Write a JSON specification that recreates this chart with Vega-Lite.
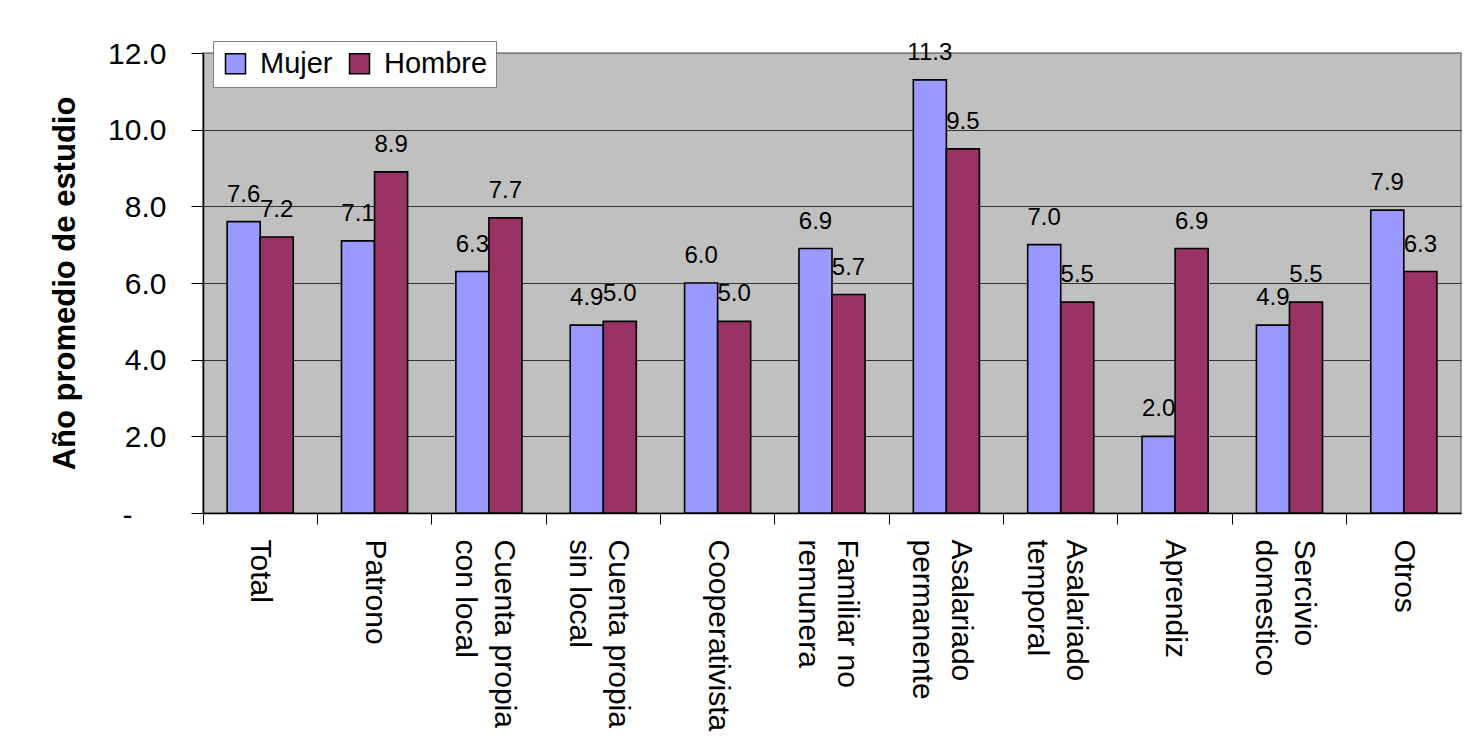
{
  "$schema": "https://vega.github.io/schema/vega-lite/v6.json",
  "width": 1258,
  "height": 460,
  "autosize": {"type": "none"},
  "padding": {"left": 203, "top": 53, "right": 3, "bottom": 223},
  "background": "white",
  "data": {
    "values": [
      {"categoria": "Total", "sexo": "Mujer", "anios": 7.6},
      {"categoria": "Total", "sexo": "Hombre", "anios": 7.2},
      {"categoria": "Patrono", "sexo": "Mujer", "anios": 7.1},
      {"categoria": "Patrono", "sexo": "Hombre", "anios": 8.9},
      {"categoria": "Cuenta propia\ncon local", "sexo": "Mujer", "anios": 6.3},
      {"categoria": "Cuenta propia\ncon local", "sexo": "Hombre", "anios": 7.7},
      {"categoria": "Cuenta propia\nsin local", "sexo": "Mujer", "anios": 4.9},
      {"categoria": "Cuenta propia\nsin local", "sexo": "Hombre", "anios": 5.0},
      {"categoria": "Cooperativista", "sexo": "Mujer", "anios": 6.0},
      {"categoria": "Cooperativista", "sexo": "Hombre", "anios": 5.0},
      {"categoria": "Familiar no\nremunera", "sexo": "Mujer", "anios": 6.9},
      {"categoria": "Familiar no\nremunera", "sexo": "Hombre", "anios": 5.7},
      {"categoria": "Asalariado\npermanente", "sexo": "Mujer", "anios": 11.3},
      {"categoria": "Asalariado\npermanente", "sexo": "Hombre", "anios": 9.5},
      {"categoria": "Asalariado\ntemporal", "sexo": "Mujer", "anios": 7.0},
      {"categoria": "Asalariado\ntemporal", "sexo": "Hombre", "anios": 5.5},
      {"categoria": "Aprendiz", "sexo": "Mujer", "anios": 2.0},
      {"categoria": "Aprendiz", "sexo": "Hombre", "anios": 6.9},
      {"categoria": "Sercivio\ndomestico", "sexo": "Mujer", "anios": 4.9},
      {"categoria": "Sercivio\ndomestico", "sexo": "Hombre", "anios": 5.5},
      {"categoria": "Otros", "sexo": "Mujer", "anios": 7.9},
      {"categoria": "Otros", "sexo": "Hombre", "anios": 6.3}
    ]
  },
  "encoding": {
    "x": {
      "field": "categoria",
      "type": "nominal",
      "sort": null,
      "scale": {"paddingInner": 0, "paddingOuter": 0},
      "axis": {
        "title": null,
        "labelExpr": "split(datum.label, '\\n')",
        "labelAngle": 90,
        "labelAlign": "left",
        "labelBaseline": "middle",
        "labelFont": "Liberation Sans",
        "labelFontSize": 30,
        "labelLineHeight": 39,
        "labelColor": "black",
        "labelPadding": 15,
        "labelLimit": 400,
        "labelOffset": {"condition": {"test": "indexof(datum.value, '\\n') >= 0", "value": 15}, "value": 0},
        "bandPosition": 0,
        "tickColor": "black",
        "tickSize": 11,
        "tickWidth": 1,
        "domainColor": "black",
        "domainWidth": 1.5,
        "grid": false
      }
    },
    "xOffset": {
      "field": "sexo",
      "type": "nominal",
      "sort": ["Mujer", "Hombre"],
      "scale": {"paddingInner": 0, "paddingOuter": 0.73}
    },
    "y": {
      "field": "anios",
      "type": "quantitative",
      "scale": {"domain": [0, 12], "nice": false},
      "axis": {
        "title": "Año promedio de estudio",
        "titleFont": "Liberation Sans",
        "titleFontSize": 31,
        "titleFontWeight": "bold",
        "titleColor": "black",
        "titlePadding": 26,
        "values": [0, 2, 4, 6, 8, 10, 12],
        "labelExpr": "datum.value == 0 ? '-' : format(datum.value, '.1f')",
        "labelFont": "Liberation Sans",
        "labelFontSize": 30,
        "labelColor": "black",
        "labelPadding": {"condition": {"test": "datum.value == 0", "value": 59}, "value": 25},
        "labelOffset": {"condition": {"test": "datum.value == 0", "value": 2}, "value": 1},
        "tickColor": "black",
        "tickSize": 12,
        "domainColor": "black",
        "domainWidth": 1.5,
        "grid": true,
        "gridColor": {"condition": {"test": "datum.value == 12", "value": "#808080"}, "value": "#333333"},
        "gridWidth": 1
      }
    }
  },
  "layer": [
    {
      "mark": {"type": "bar", "stroke": "black", "strokeWidth": 1.6},
      "encoding": {
        "color": {
          "field": "sexo",
          "type": "nominal",
          "scale": {"domain": ["Mujer", "Hombre"], "range": ["#9999FF", "#993366"]},
          "legend": {
            "title": null,
            "orient": "none",
            "legendX": 10,
            "legendY": -12,
            "direction": "horizontal",
            "fillColor": "white",
            "strokeColor": "#808080",
            "padding": 8,
            "columnPadding": 12,
            "labelOffset": 10,
            "labelFont": "Liberation Sans",
            "labelFontSize": 29,
            "labelColor": "black",
            "symbolType": "square",
            "symbolSize": 400,
            "symbolStrokeColor": "black",
            "symbolStrokeWidth": 1.5,
            "symbolOpacity": 1
          }
        }
      }
    },
    {
      "mark": {
        "type": "text",
        "font": "Liberation Sans",
        "fontSize": 24,
        "color": "black",
        "baseline": "alphabetic",
        "dy": -20
      },
      "encoding": {
        "text": {"field": "anios", "type": "quantitative", "format": ".1f"}
      }
    }
  ],
  "config": {
    "view": {"fill": "#C0C0C0", "stroke": "#808080", "strokeWidth": 1.5}
  }
}
